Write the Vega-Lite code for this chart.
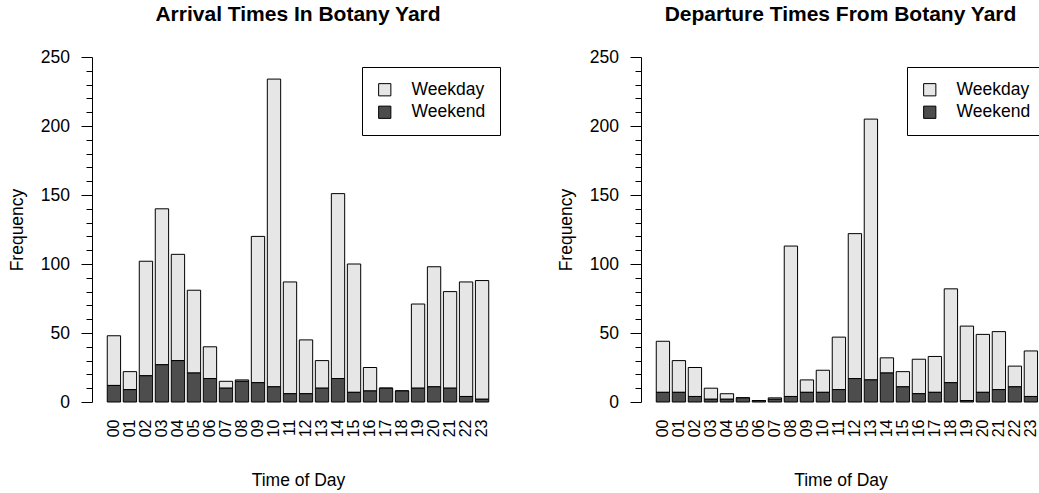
{
  "$schema": "https://vega.github.io/schema/vega-lite/v6.json",
  "padding": {"left": 8, "top": 4, "right": 0, "bottom": 0},
  "spacing": 53,
  "config": {
    "font": "Liberation Sans",
    "view": {"stroke": null},
    "title": {"fontSize": 21, "fontWeight": "bold", "color": "black", "anchor": "middle", "frame": "group", "offset": 23},
    "axis": {"labelColor": "black", "titleColor": "black", "domainColor": "black", "tickColor": "black", "labelFontSize": 17.5, "titleFontSize": 17.5, "titleFontWeight": "normal", "grid": false},
    "legend": {"orient": "none", "title": null, "strokeColor": "black", "fillColor": "white", "padding": 14, "labelFontSize": 17.5, "labelColor": "black", "symbolType": "square", "symbolSize": 150, "symbolStrokeColor": "black", "symbolStrokeWidth": 1, "labelOffset": 18, "rowPadding": 3.5, "cornerRadius": 0}
  },
  "datasets": {
    "arrival": [
      {"hour": "00", "Weekday": 36, "Weekend": 12},
      {"hour": "01", "Weekday": 13, "Weekend": 9},
      {"hour": "02", "Weekday": 83, "Weekend": 19},
      {"hour": "03", "Weekday": 113, "Weekend": 27},
      {"hour": "04", "Weekday": 77, "Weekend": 30},
      {"hour": "05", "Weekday": 60, "Weekend": 21},
      {"hour": "06", "Weekday": 23, "Weekend": 17},
      {"hour": "07", "Weekday": 5, "Weekend": 10},
      {"hour": "08", "Weekday": 1, "Weekend": 15},
      {"hour": "09", "Weekday": 106, "Weekend": 14},
      {"hour": "10", "Weekday": 223, "Weekend": 11},
      {"hour": "11", "Weekday": 81, "Weekend": 6},
      {"hour": "12", "Weekday": 39, "Weekend": 6},
      {"hour": "13", "Weekday": 20, "Weekend": 10},
      {"hour": "14", "Weekday": 134, "Weekend": 17},
      {"hour": "15", "Weekday": 93, "Weekend": 7},
      {"hour": "16", "Weekday": 17, "Weekend": 8},
      {"hour": "17", "Weekday": 0, "Weekend": 10},
      {"hour": "18", "Weekday": 0, "Weekend": 8},
      {"hour": "19", "Weekday": 61, "Weekend": 10},
      {"hour": "20", "Weekday": 87, "Weekend": 11},
      {"hour": "21", "Weekday": 70, "Weekend": 10},
      {"hour": "22", "Weekday": 83, "Weekend": 4},
      {"hour": "23", "Weekday": 86, "Weekend": 2}
    ],
    "departure": [
      {"hour": "00", "Weekday": 37, "Weekend": 7},
      {"hour": "01", "Weekday": 23, "Weekend": 7},
      {"hour": "02", "Weekday": 21, "Weekend": 4},
      {"hour": "03", "Weekday": 8, "Weekend": 2},
      {"hour": "04", "Weekday": 4, "Weekend": 2},
      {"hour": "05", "Weekday": 0, "Weekend": 3},
      {"hour": "06", "Weekday": 0, "Weekend": 1},
      {"hour": "07", "Weekday": 1, "Weekend": 2},
      {"hour": "08", "Weekday": 109, "Weekend": 4},
      {"hour": "09", "Weekday": 9, "Weekend": 7},
      {"hour": "10", "Weekday": 16, "Weekend": 7},
      {"hour": "11", "Weekday": 38, "Weekend": 9},
      {"hour": "12", "Weekday": 105, "Weekend": 17},
      {"hour": "13", "Weekday": 189, "Weekend": 16},
      {"hour": "14", "Weekday": 11, "Weekend": 21},
      {"hour": "15", "Weekday": 11, "Weekend": 11},
      {"hour": "16", "Weekday": 25, "Weekend": 6},
      {"hour": "17", "Weekday": 26, "Weekend": 7},
      {"hour": "18", "Weekday": 68, "Weekend": 14},
      {"hour": "19", "Weekday": 54, "Weekend": 1},
      {"hour": "20", "Weekday": 42, "Weekend": 7},
      {"hour": "21", "Weekday": 42, "Weekend": 9},
      {"hour": "22", "Weekday": 15, "Weekend": 11},
      {"hour": "23", "Weekday": 33, "Weekend": 4}
    ]
  },
  "hconcat": [
    {
      "width": 412,
      "height": 345,
      "title": {"text": "Arrival Times In Botany Yard"},
      "data": {"name": "arrival"},
      "transform": [{"fold": ["Weekday", "Weekend"], "as": ["type", "count"]}],
      "mark": {"type": "bar", "stroke": "black", "strokeWidth": 1},
      "encoding": {
        "x": {
          "field": "hour", "type": "ordinal",
          "scale": {"paddingInner": 0.1667, "paddingOuter": 0.953},
          "axis": {"title": "Time of Day", "labelAngle": 270, "labelAlign": "right", "labelBaseline": "middle", "labelFontSize": 16, "domain": false, "ticks": false, "tickSize": 0, "labelPadding": 17, "titlePadding": 35}
        },
        "y": {
          "field": "count", "type": "quantitative", "stack": "zero",
          "scale": {"domain": [0, 250], "nice": false},
          "axis": {
            "title": "Frequency",
            "values": [0, 10, 20, 30, 40, 50, 60, 70, 80, 90, 100, 110, 120, 130, 140, 150, 160, 170, 180, 190, 200, 210, 220, 230, 240, 250],
            "labelExpr": "datum.value % 50 === 0 ? datum.label : ''",
            "tickSize": {"condition": {"test": "datum.value % 50 !== 0", "value": 6}, "value": 11},
            "labelPadding": 11.6,
            "titlePadding": 14
          }
        },
        "color": {
          "field": "type", "type": "nominal",
          "scale": {"domain": ["Weekday", "Weekend"], "range": ["#e6e6e6", "#4d4d4d"]},
          "legend": {"legendX": 270, "legendY": 10}
        },
        "order": {"field": "type", "sort": "descending"}
      }
    },
    {
      "width": 399,
      "height": 345,
      "title": {"text": "Departure Times From Botany Yard"},
      "data": {"name": "departure"},
      "transform": [{"fold": ["Weekday", "Weekend"], "as": ["type", "count"]}],
      "mark": {"type": "bar", "stroke": "black", "strokeWidth": 1},
      "encoding": {
        "x": {
          "field": "hour", "type": "ordinal",
          "scale": {"paddingInner": 0.1667, "paddingOuter": 0.553, "align": 0.862},
          "axis": {"title": "Time of Day", "labelAngle": 270, "labelAlign": "right", "labelBaseline": "middle", "labelFontSize": 16, "domain": false, "ticks": false, "tickSize": 0, "labelPadding": 17, "titlePadding": 35}
        },
        "y": {
          "field": "count", "type": "quantitative", "stack": "zero",
          "scale": {"domain": [0, 250], "nice": false},
          "axis": {
            "title": "Frequency",
            "values": [0, 10, 20, 30, 40, 50, 60, 70, 80, 90, 100, 110, 120, 130, 140, 150, 160, 170, 180, 190, 200, 210, 220, 230, 240, 250],
            "labelExpr": "datum.value % 50 === 0 ? datum.label : ''",
            "tickSize": {"condition": {"test": "datum.value % 50 !== 0", "value": 6}, "value": 11},
            "labelPadding": 11.6,
            "titlePadding": 14
          }
        },
        "color": {
          "field": "type", "type": "nominal",
          "scale": {"domain": ["Weekday", "Weekend"], "range": ["#e6e6e6", "#4d4d4d"]},
          "legend": {"legendX": 266, "legendY": 10}
        },
        "order": {"field": "type", "sort": "descending"}
      }
    }
  ],
  "resolve": {"scale": {"color": "independent"}, "legend": {"color": "independent"}}
}
